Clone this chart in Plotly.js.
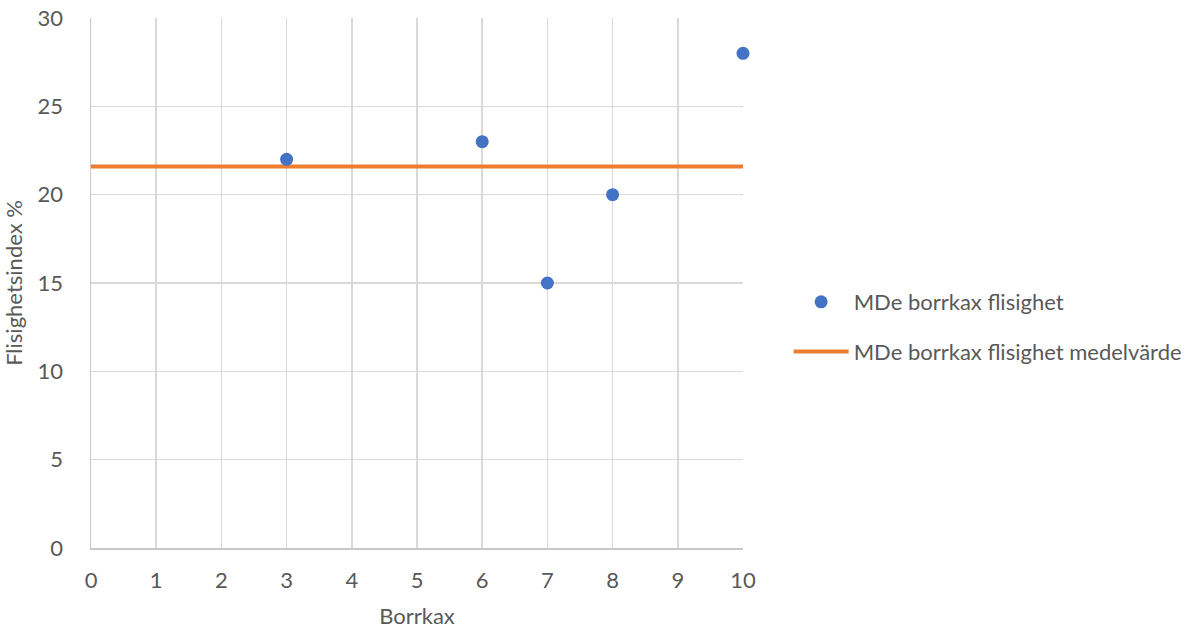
<!DOCTYPE html>
<html>
<head>
<meta charset="utf-8">
<script src="https://cdn.plot.ly/plotly-3.0.1.min.js"></script>
<style>
  html, body { margin: 0; padding: 0; background: #fff; }
  #chart { width: 1202px; height: 629px; }
</style>
</head>
<body>
<div id="chart"></div>
<script>
// Borrkax numbers and measured flakiness index (%)
const borrkax = [3, 6, 7, 8, 10];
const flisighet = [22, 23, 15, 20, 28];

// Mean value line across the full x range
const medelX = [0, 10];
const medelY = [21.6, 21.6];

const xTicks = [0, 1, 2, 3, 4, 5, 6, 7, 8, 9, 10];
const yTicks = [0, 5, 10, 15, 20, 25, 30];

const textColor = '#595959';
const fontFamily = 'Lato, "Open Sans", sans-serif';
const fontSize = 22;

const traces = [
  {
    x: medelX,
    y: medelY,
    type: 'scatter',
    mode: 'lines',
    name: 'MDe borrkax flisighet medelvärde',
    line: { color: '#ED7D31', width: 4 },
    legendgroup: 'b',
    legendrank: 2,
    cliponaxis: false,
    hoverinfo: 'skip'
  },
  {
    x: borrkax,
    y: flisighet,
    type: 'scatter',
    mode: 'markers',
    name: 'MDe borrkax flisighet',
    marker: { color: '#4472C4', size: 13 },
    legendgroup: 'a',
    legendrank: 1,
    cliponaxis: false
  }
];

const layout = {
  width: 1202,
  height: 629,
  margin: { l: 91, r: 459, t: 18, b: 81 },
  paper_bgcolor: '#ffffff',
  plot_bgcolor: '#ffffff',
  font: { family: fontFamily, color: textColor, size: fontSize },
  showlegend: true,
  legend: {
    x: 1.07,
    xanchor: 'left',
    y: 0.417,
    yanchor: 'middle',
    font: { family: fontFamily, color: textColor, size: fontSize },
    tracegroupgap: 18,
    itemwidth: 55,
    bgcolor: 'rgba(0,0,0,0)'
  },
  xaxis: {
    range: [0, 10],
    tickvals: xTicks,
    ticktext: xTicks.map(String),
    showgrid: true,
    gridcolor: '#d9d9d9',
    gridwidth: 1.5,
    showline: true,
    linecolor: '#c8c8c8',
    linewidth: 1.5,
    zeroline: false,
    ticks: '',
    ticklabelstandoff: 12,
    tickfont: { family: fontFamily, color: textColor, size: fontSize },
    title: { text: 'Borrkax', font: { family: fontFamily, color: textColor, size: fontSize }, standoff: 19 }
  },
  yaxis: {
    range: [0, 30],
    tickvals: yTicks,
    ticktext: yTicks.map(String),
    showgrid: true,
    gridcolor: '#d9d9d9',
    gridwidth: 1.5,
    showline: true,
    linecolor: '#c8c8c8',
    linewidth: 1.5,
    zeroline: false,
    ticks: '',
    ticklabelstandoff: 22,
    tickfont: { family: fontFamily, color: textColor, size: fontSize },
    title: { text: 'Flisighetsindex %', font: { family: fontFamily, color: textColor, size: fontSize }, standoff: 9 }
  }
};

Plotly.newPlot('chart', traces, layout, { displayModeBar: false, staticPlot: true });
</script>
</body>
</html>
